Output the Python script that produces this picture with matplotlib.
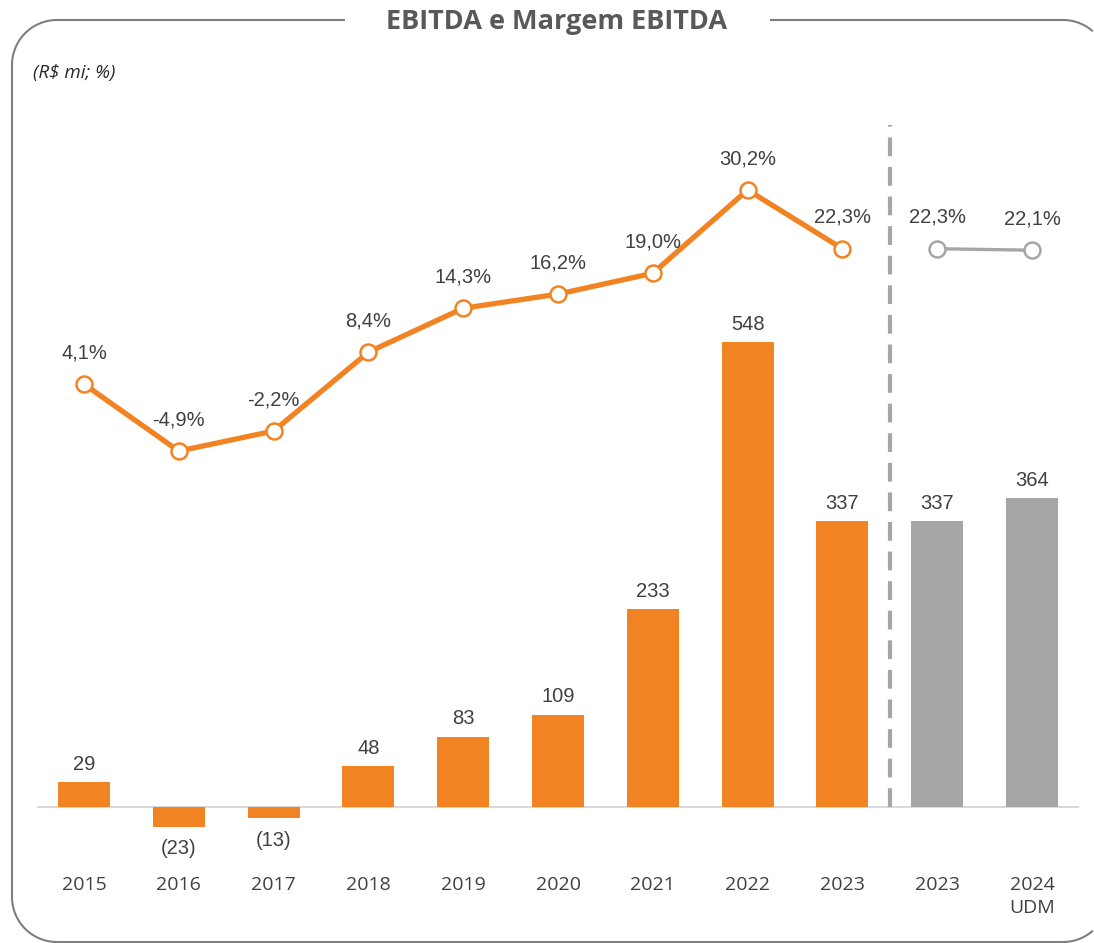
import matplotlib.pyplot as plt
import numpy as np

# data
years = ['2015', '2016', '2017', '2018', '2019', '2020', '2021', '2022', '2023', '2023', '2024\nUDM']
ebitda = [29, -23, -13, 48, 83, 109, 233, 548, 337, 337, 364]
margin_hist = [4.1, -4.9, -2.2, 8.4, 14.3, 16.2, 19.0, 30.2, 22.3]
margin_ltm = [22.3, 22.1]
bar_labels = ['29', '(23)', '(13)', '48', '83', '109', '233', '548', '337', '337', '364']

ORANGE = '#F28322'
GREY = '#A6A6A6'
TXT = '#404040'
NUM_FONT = ['Liberation Sans Narrow', 'Liberation Sans', 'DejaVu Sans']
LBL_FONT = ['Open Sans', 'DejaVu Sans']

W, H = 1094, 943
fig = plt.figure(figsize=(W / 100, H / 100), dpi=100)

# frame drawn in pixel coordinates (right side runs off the image)
bg = fig.add_axes([0, 0, 1, 1])
bg.set_xlim(0, W)
bg.set_ylim(H, 0)
bg.axis('off')

L, R, T, B, r = 12, 1108, 20, 942, 45


def arc(cx, cy, a0, a1):
    a = np.radians(np.linspace(a0, a1, 40))
    return cx + r * np.cos(a), cy - r * np.sin(a)


# top right: title gap end -> corner
ax_, ay_ = arc(R - r, T + r, 90, 0)
keep = ax_ <= W
seg1_x = np.r_[770, ax_[keep]]
seg1_y = np.r_[T, ay_[keep]]
# bottom right corner -> bottom -> left -> top -> title gap start
bx, by = arc(R - r, B - r, 0, -90)
keep = bx <= W
blx, bly = arc(L + r, B - r, 270, 180)
tlx, tly = arc(L + r, T + r, 180, 90)
seg2_x = np.r_[bx[keep], blx, tlx, 345]
seg2_y = np.r_[by[keep], bly, tly, T]
for sx, sy in [(seg1_x, seg1_y), (seg2_x, seg2_y)]:
    bg.plot(sx, sy, color='#7F7F7F', lw=1.5, solid_capstyle='butt')

bg.text(557, 22, 'EBITDA e Margem EBITDA', ha='center', va='center',
        fontsize=19.5, fontweight='bold', color='#595959', family=LBL_FONT)
bg.text(33, 73, '(R$ mi; %)', ha='left', va='center', fontsize=13.5,
        style='italic', color='#262626', family=LBL_FONT)

# main chart area (pixels: x 36.6..1079.4, y 120..860)
ax = fig.add_axes([36.6 / W, (H - 860) / H, (1079.4 - 36.6) / W, 740 / H])
ax.patch.set_alpha(0)
x = np.arange(len(years))
ax.set_xlim(-0.5, 10.5)
ax.set_ylim(-62.5, 810.1)
ax.axis('off')

colors = [ORANGE] * 9 + [GREY] * 2
ax.bar(x, ebitda, width=0.55, color=colors, zorder=2)
ax.axhline(0, color='#D9D9D9', lw=1.5, zorder=1)
ax.plot([8.5, 8.5], [0, 804], color=GREY, lw=3, dashes=(4.5, 2.6), zorder=1)

for xi, v, lab in zip(x, ebitda, bar_labels):
    off = 13 if v >= 0 else -16
    ax.annotate(lab, (xi, v), xytext=(0, off), textcoords='offset points',
                ha='center', va='center', fontsize=14.5, color=TXT, family=NUM_FONT)

for xi, yl in zip(x, years):
    ax.text(xi, -0.021, yl, transform=ax.get_xaxis_transform(), ha='center', va='top',
            fontsize=14, color=TXT, family=LBL_FONT, linespacing=1.4)

# margin line
ax2 = ax.twinx()
ax2.set_ylim(-59.85, 39.6)
ax2.axis('off')
xh = x[:9]
xl = x[9:]
ax2.plot(xh, margin_hist, color=ORANGE, lw=3.8, marker='o', ms=11.5,
         mfc='white', mec=ORANGE, mew=1.8, zorder=3)
ax2.plot(xl, margin_ltm, color=GREY, lw=2.4, marker='o', ms=11.5,
         mfc='white', mec=GREY, mew=1.8, zorder=3)
for xi, m in list(zip(xh, margin_hist)) + list(zip(xl, margin_ltm)):
    ax2.annotate(f'{m:.1f}%'.replace('.', ','), (xi, m), xytext=(0, 22.5),
                 textcoords='offset points', ha='center', va='center',
                 fontsize=14.5, color=TXT, family=NUM_FONT)

fig.savefig('out.png', dpi=100)
